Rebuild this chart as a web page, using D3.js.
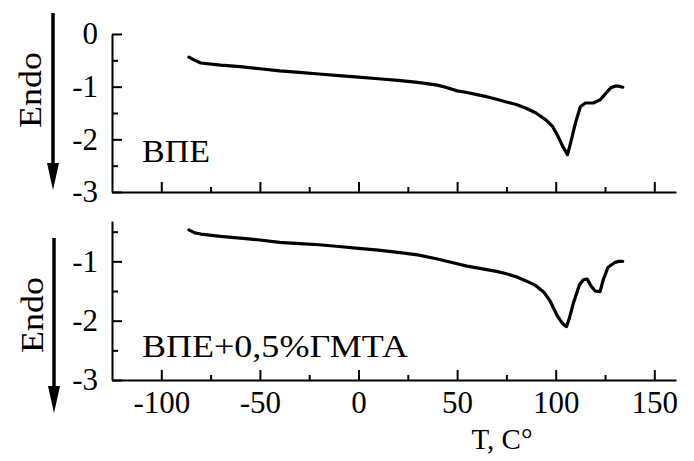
<!DOCTYPE html>
<html>
<head>
<meta charset="utf-8">
<script src="https://cdn.jsdelivr.net/npm/d3@7"></script>
<style>
  html, body { margin: 0; padding: 0; background: #fff; }
  svg { display: block; }
  svg text { font-family: "Liberation Serif", "DejaVu Serif", "Times New Roman", Times, serif; fill: #000; }
</style>
</head>
<body>
<svg id="chart" width="694" height="461"></svg>
<script>
// ---- data ----
const xTicks = [-100, -50, 0, 50, 100, 150];
const xMinorTicks = [-75, -25, 25, 75, 125];
const topYTicks = [0, -1, -2, -3];
const bottomYTicks = [-1, -2, -3];
const yMinorTicks = [-0.5, -1.5, -2.5];

const topT = [-86, -83, -80, -70, -60, -50, -40, -30, -20, -10, 0, 10, 20, 30, 40, 45, 50, 55, 60, 65, 70, 75, 80, 85, 90, 95, 98.5, 101, 103.5, 106, 108, 110, 112.5, 115, 119, 122.5, 126, 128, 130, 132, 134];
const topDSC = [-0.44, -0.50, -0.55, -0.59, -0.62, -0.66, -0.70, -0.73, -0.76, -0.79, -0.82, -0.85, -0.88, -0.92, -0.97, -1.02, -1.08, -1.11, -1.15, -1.19, -1.24, -1.29, -1.34, -1.41, -1.50, -1.63, -1.76, -1.93, -2.13, -2.29, -2.00, -1.69, -1.38, -1.31, -1.31, -1.25, -1.10, -1.02, -0.99, -0.99, -1.01];

const bottomT = [-86, -83, -80, -70, -60, -50, -40, -30, -20, -10, 0, 10, 20, 30, 40, 50, 55, 60, 70, 75, 80, 85, 90, 94, 97, 101, 103.5, 105.5, 107, 109, 112, 114, 116, 118, 120, 122.5, 124, 126.5, 130, 132, 134];
const bottomDSC = [-0.47, -0.52, -0.54, -0.58, -0.61, -0.64, -0.68, -0.70, -0.72, -0.75, -0.78, -0.81, -0.85, -0.89, -0.96, -1.04, -1.08, -1.11, -1.17, -1.21, -1.26, -1.33, -1.41, -1.52, -1.66, -1.93, -2.05, -2.10, -1.95, -1.70, -1.40, -1.31, -1.30, -1.42, -1.50, -1.51, -1.32, -1.10, -1.02, -1.00, -1.00];

const topLabel = "ВПЕ";
const bottomLabel = "ВПЕ+0,5%ГМТА";
const yTitle = "Endo";
const xTitle = "T, C°";

// ---- layout ----
const svg = d3.select("#chart");
const FS = 31;
const fmt = d => String(d);

const x = d3.scaleLinear().domain([-125, 161]).range([112, 676]);
const yTop = d3.scaleLinear().domain([-3, 0]).range([192, 34]);
const yBot = d3.scaleLinear().domain([-3, -0.32]).range([380, 221]);

function styleAxis(g) {
  g.attr("font-family", null).attr("font-size", FS);
  g.selectAll("path.domain").attr("stroke", "#000").attr("stroke-width", 2);
  g.selectAll(".tick line").attr("stroke", "#000").attr("stroke-width", 2);
  g.selectAll("text").attr("fill", "#000");
}

function panel(yScale, yTicks, bottomY, showXLabels, T, D, label, labelBaseline, labelLen) {
  const gx = svg.append("g").attr("transform", `translate(0,${bottomY})`);
  gx.call(d3.axisBottom(x).tickValues(xTicks).tickSizeInner(-10).tickSizeOuter(0).tickPadding(11)
    .tickFormat(showXLabels ? fmt : () => ""));
  styleAxis(gx);
  const gxm = svg.append("g").attr("transform", `translate(0,${bottomY})`);
  gxm.call(d3.axisBottom(x).tickValues(xMinorTicks).tickSizeInner(-5).tickSizeOuter(0).tickFormat(() => ""));
  styleAxis(gxm);
  gxm.select("path.domain").remove();

  const gy = svg.append("g").attr("transform", `translate(112,0)`);
  gy.call(d3.axisLeft(yScale).tickValues(yTicks).tickSizeInner(-10).tickSizeOuter(0).tickPadding(14)
    .tickFormat(fmt));
  styleAxis(gy);
  const gym = svg.append("g").attr("transform", `translate(112,0)`);
  gym.call(d3.axisLeft(yScale).tickValues(yMinorTicks).tickSizeInner(-6).tickSizeOuter(0).tickFormat(() => ""));
  styleAxis(gym);
  gym.select("path.domain").remove();

  const pts = T.map((t, i) => [t, D[i]]);
  const line = d3.line().x(d => x(d[0])).y(d => yScale(d[1]));
  svg.append("path").datum(pts).attr("d", line)
    .attr("fill", "none").attr("stroke", "#000").attr("stroke-width", 3.2)
    .attr("stroke-linejoin", "round").attr("stroke-linecap", "round");

  svg.append("text").attr("x", 142).attr("y", labelBaseline)
    .attr("font-size", FS)
    .attr("textLength", labelLen).attr("lengthAdjust", "spacingAndGlyphs")
    .text(label);
}

panel(yTop, topYTicks, 192, false, topT, topDSC, topLabel, 162, 68);
panel(yBot, bottomYTicks, 380, true, bottomT, bottomDSC, bottomLabel, 357, 266);

function endo(cx, cy, len, ax, y1, y2) {
  svg.append("text").attr("transform", `translate(${cx},${cy}) rotate(-90)`)
    .attr("text-anchor", "middle").attr("font-size", FS)
    .attr("textLength", len).attr("lengthAdjust", "spacingAndGlyphs").text(yTitle);
  svg.append("line").attr("x1", ax).attr("x2", ax).attr("y1", y1).attr("y2", y2 - 20)
    .attr("stroke", "#000").attr("stroke-width", 3.5);
  svg.append("path")
    .attr("d", `M${ax - 6},${y2 - 27} L${ax + 6},${y2 - 27} L${ax},${y2} Z`)
    .attr("fill", "#000");
}
endo(41, 90, 76, 53, 13, 190);
endo(43, 315, 76, 54, 238, 413);

svg.append("text").attr("x", 502).attr("y", 449).attr("text-anchor", "middle")
  .attr("font-size", 29).text(xTitle);
</script>
</body>
</html>
